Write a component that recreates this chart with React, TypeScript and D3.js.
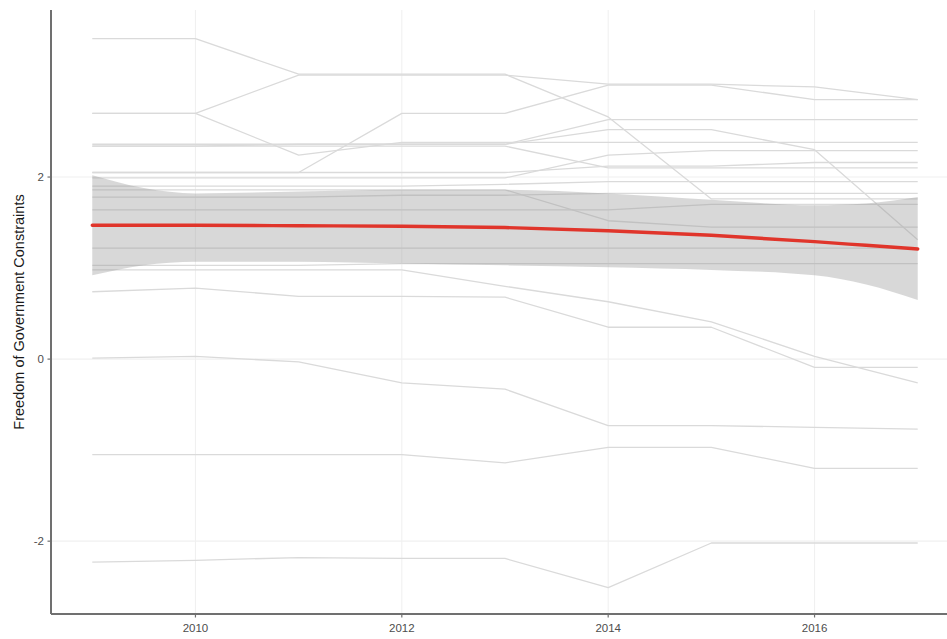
import React from "react";
import * as d3 from "d3";

// Survey years for every country series
const years = [2009, 2010, 2011, 2012, 2013, 2014, 2015, 2016, 2017];

// Country-level scores, one array per country (values by year)
const country01 = [3.52, 3.52, 3.13, 3.13, 3.13, 2.66, 1.76, 1.76, 1.76];
const country02 = [2.7, 2.7, 3.12, 3.12, 3.12, 3.02, 3.02, 2.99, 2.85];
const country03 = [2.7, 2.7, 2.24, 2.38, 2.38, 2.38, 2.38, 2.38, 2.38];
const country04 = [2.34, 2.34, 2.36, 2.36, 2.36, 2.63, 2.63, 2.63, 2.63];
const country05 = [2.05, 2.05, 2.05, 2.7, 2.7, 3.01, 3.01, 2.85, 2.85];
const country06 = [2.05, 2.05, 2.05, 2.05, 2.05, 2.12, 2.12, 2.16, 2.16];
const country07 = [1.99, 1.99, 1.99, 1.99, 1.99, 2.24, 2.29, 2.29, 2.29];
const country08 = [2.34, 2.34, 2.34, 2.34, 2.34, 2.1, 2.1, 2.1, 2.1];
const country09 = [2.36, 2.36, 2.36, 2.36, 2.36, 2.52, 2.52, 2.3, 1.31];
const country10 = [1.78, 1.78, 1.78, 1.8, 1.8, 1.82, 1.82, 1.82, 1.82];
const country11 = [1.64, 1.64, 1.64, 1.64, 1.64, 1.64, 1.7, 1.7, 1.7];
const country12 = [1.22, 1.22, 1.22, 1.22, 1.22, 1.22, 1.22, 1.22, 1.22];
const country13 = [1.03, 1.03, 1.03, 1.05, 1.05, 1.05, 1.05, 1.05, 1.05];
const country14 = [1.9, 1.9, 1.9, 1.9, 1.92, 1.95, 1.95, 1.95, 1.95];
const country15 = [1.86, 1.86, 1.86, 1.86, 1.86, 1.52, 1.45, 1.45, 1.45];
const country16 = [0.98, 0.98, 0.98, 0.98, 0.8, 0.63, 0.41, 0.03, -0.26];
const country17 = [0.74, 0.78, 0.69, 0.69, 0.68, 0.35, 0.35, -0.09, -0.09];
const country18 = [0.01, 0.03, -0.03, -0.26, -0.33, -0.73, -0.73, -0.75, -0.77];
const country19 = [-1.05, -1.05, -1.05, -1.05, -1.14, -0.97, -0.97, -1.2, -1.2];
const country20 = [-2.23, -2.21, -2.18, -2.19, -2.19, -2.51, -2.02, -2.02, -2.02];

const countries = [
  country01, country02, country03, country04, country05,
  country06, country07, country08, country09, country10,
  country11, country12, country13, country14, country15,
  country16, country17, country18, country19, country20,
];

// Smoothed trend with its confidence band
const fitYears = [2009, 2009.5, 2010, 2011, 2012, 2013, 2014, 2015, 2016, 2016.5, 2017];
const fitMean = [1.47, 1.47, 1.47, 1.465, 1.46, 1.445, 1.41, 1.36, 1.29, 1.25, 1.21];
const fitUpper = [2.02, 1.88, 1.82, 1.84, 1.86, 1.86, 1.82, 1.75, 1.69, 1.71, 1.78];
const fitLower = [0.92, 1.03, 1.07, 1.07, 1.05, 1.03, 1.01, 0.98, 0.92, 0.82, 0.65];

const xTicks = [2010, 2012, 2014, 2016];
const yTicks = [2, 0, -2];
const yTickLabels = ["2", "0", "-2"];
const yTitle = "Freedom of Government Constraints";

const W = 947;
const H = 639;
const panel = { left: 51, right: 959, top: 10, bottom: 614 };
const FONT = "'Liberation Sans', Arial, Helvetica, sans-serif";

export default function App() {
  const x = d3.scaleLinear().domain([2008.6, 2017.4]).range([panel.left, panel.right]);
  const y = d3.scaleLinear().domain([-2.8, 3.835]).range([panel.bottom, panel.top]);

  const countryLine = d3
    .line<number>()
    .x((_, i) => x(years[i]))
    .y((d) => y(d));

  const band = d3
    .area<number>()
    .x((_, i) => x(fitYears[i]))
    .y0((_, i) => y(fitLower[i]))
    .y1((_, i) => y(fitUpper[i]))
    .curve(d3.curveMonotoneX);

  const trend = d3
    .line<number>()
    .x((_, i) => x(fitYears[i]))
    .y((d) => y(d))
    .curve(d3.curveMonotoneX);

  return (
    <div style={{ position: "absolute", left: 0, top: 0 }}>
      <svg width={W} height={H} style={{ display: "block", background: "#fff" }}>
        {/* grid */}
        <g>
          {xTicks.map((t) => (
            <line key={"gx" + t} x1={x(t)} x2={x(t)} y1={panel.top} y2={panel.bottom} stroke="#f0f0f0" strokeWidth={1.1} />
          ))}
          {yTicks.map((t) => (
            <line key={"gy" + t} x1={panel.left} x2={W} y1={y(t)} y2={y(t)} stroke="#f0f0f0" strokeWidth={1.1} />
          ))}
        </g>

        {/* country trajectories */}
        <g fill="none" stroke="#dadada" strokeWidth={1.3} strokeLinejoin="round">
          {countries.map((c, i) => (
            <path key={"c" + i} d={countryLine(c) || ""} />
          ))}
        </g>

        {/* confidence band and trend */}
        <path d={band(fitMean) || ""} fill="#999999" fillOpacity={0.38} stroke="none" />
        <path d={trend(fitMean) || ""} fill="none" stroke="#e0352b" strokeWidth={3.4} strokeLinecap="round" />

        {/* axes */}
        <line x1={panel.left} x2={panel.left} y1={panel.top} y2={panel.bottom} stroke="#707070" strokeWidth={2} />
        <line x1={panel.left} x2={W} y1={panel.bottom} y2={panel.bottom} stroke="#707070" strokeWidth={2} />

        {yTicks.map((t, i) => (
          <g key={"yt" + t} transform={`translate(${panel.left},${y(t)})`}>
            <line x1={-3.5} x2={0} stroke="#707070" strokeWidth={1.2} />
            <text x={-7} dy="0.35em" textAnchor="end" fontSize={11.5} fill="#4d4d4d" fontFamily={FONT}>
              {yTickLabels[i]}
            </text>
          </g>
        ))}
        {xTicks.map((t) => (
          <g key={"xt" + t} transform={`translate(${x(t)},${panel.bottom})`}>
            <line y1={0} y2={3.5} stroke="#707070" strokeWidth={1.2} />
            <text y={18} textAnchor="middle" fontSize={11.5} fill="#4d4d4d" fontFamily={FONT}>
              {t}
            </text>
          </g>
        ))}

        <text
          transform={`translate(19,${(panel.top + panel.bottom) / 2}) rotate(-90)`}
          textAnchor="middle"
          dy="0.35em"
          fontSize={14.5}
          fill="#1a1a1a"
          fontFamily={FONT}
        >
          {yTitle}
        </text>
      </svg>
    </div>
  );
}
